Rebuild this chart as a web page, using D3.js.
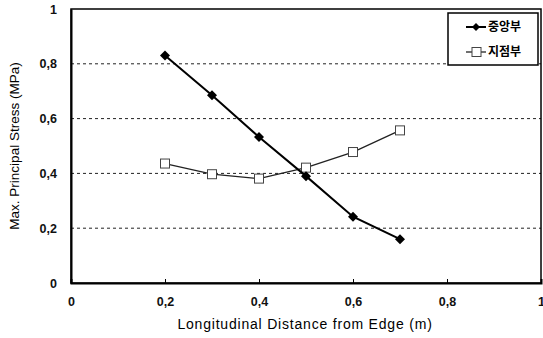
<!DOCTYPE html>
<html>
<head>
<meta charset="utf-8">
<script src="https://cdnjs.cloudflare.com/ajax/libs/d3/7.8.5/d3.min.js"></script>
<style>
  body { margin: 0; background: #fff; }
  text { font-family: Arial, "Liberation Sans", "Noto Sans CJK KR", sans-serif; }
</style>
</head>
<body>
<div id="chart"></div>
<script>
// data
const distances = [0.2, 0.3, 0.4, 0.5, 0.6, 0.7];
const centerStress = [0.83, 0.685, 0.533, 0.39, 0.242, 0.16];   // 중앙부
const supportStress = [0.436, 0.397, 0.381, 0.421, 0.478, 0.557]; // 지점부
const seriesNames = ["중앙부", "지점부"];
const xTicks = [0, 0.2, 0.4, 0.6, 0.8, 1];
const yTicks = [0, 0.2, 0.4, 0.6, 0.8, 1];

const width = 543, height = 338;
const margin = {top: 9, right: 2, bottom: 55, left: 71};

const svg = d3.select("#chart").append("svg")
    .attr("width", width)
    .attr("height", height);

const x = d3.scaleLinear().domain([0, 1]).range([margin.left, width - margin.right]);
const y = d3.scaleLinear().domain([0, 1]).range([height - margin.bottom, margin.top]);

const fmt = d => d === 0 || d === 1 ? String(d) : d3.format(".1f")(d).replace(".", ",");

// dashed grid lines
svg.append("g")
    .selectAll("line")
    .data(yTicks.filter(d => d > 0 && d < 1))
    .join("line")
    .attr("x1", x(0)).attr("x2", x(1))
    .attr("y1", d => y(d)).attr("y2", d => y(d))
    .attr("stroke", "#222")
    .attr("stroke-width", 1)
    .attr("stroke-dasharray", "3,3");

// frame
svg.append("rect")
    .attr("x", x(0)).attr("y", y(1))
    .attr("width", x(1) - x(0)).attr("height", y(0) - y(1))
    .attr("fill", "none")
    .attr("stroke", "#000")
    .attr("stroke-width", 1.5);

// axes
const xAxis = d3.axisBottom(x).tickValues(xTicks).tickSize(-4).tickPadding(14).tickFormat(fmt);
const gx = svg.append("g").attr("transform", `translate(0,${y(0)})`).call(xAxis);
gx.select(".domain").attr("stroke-width", 2);

const yAxis = d3.axisLeft(y).tickValues(yTicks).tickSize(0).tickPadding(14).tickFormat(fmt);
const gy = svg.append("g").attr("transform", `translate(${x(0)},0)`).call(yAxis);
gy.select(".domain").attr("stroke-width", 2);

svg.selectAll(".tick text")
    .attr("font-size", 12.5)
    .attr("font-weight", "bold")
    .attr("fill", "#111");

// axis titles
svg.append("text")
    .attr("x", (x(0) + x(1)) / 2 - 1)
    .attr("y", 329)
    .attr("text-anchor", "middle")
    .attr("font-size", 14)
    .attr("letter-spacing", 0.8)
    .text("Longitudinal Distance from Edge (m)");

svg.append("text")
    .attr("transform", `translate(19,${(y(0) + y(1)) / 2}) rotate(-90)`)
    .attr("text-anchor", "middle")
    .attr("font-size", 13.5)
    .text("Max. Principal Stress (MPa)");

const line = d3.line().x((d, i) => x(distances[i])).y(d => y(d));
const diamond = r => `M0,${-r}L${r},0L0,${r}L${-r},0Z`;

// 지점부 series
svg.append("path")
    .datum(supportStress)
    .attr("d", line)
    .attr("fill", "none")
    .attr("stroke", "#222")
    .attr("stroke-width", 1.3);
svg.append("g")
    .selectAll("rect")
    .data(supportStress)
    .join("rect")
    .attr("x", (d, i) => x(distances[i]) - 4.5)
    .attr("y", d => y(d) - 4.5)
    .attr("width", 9).attr("height", 9)
    .attr("fill", "#fff")
    .attr("stroke", "#444")
    .attr("stroke-width", 1);

// 중앙부 series
svg.append("path")
    .datum(centerStress)
    .attr("d", line)
    .attr("fill", "none")
    .attr("stroke", "#000")
    .attr("stroke-width", 2);
svg.append("g")
    .selectAll("path")
    .data(centerStress)
    .join("path")
    .attr("d", diamond(5))
    .attr("transform", (d, i) => `translate(${x(distances[i])},${y(d)})`)
    .attr("fill", "#000");

// legend
const lg = svg.append("g");
lg.append("rect")
    .attr("x", 448).attr("y", 13)
    .attr("width", 90).attr("height", 52)
    .attr("fill", "#fff")
    .attr("stroke", "#000")
    .attr("stroke-width", 1.5);

const rows = [27, 52];
lg.append("line").attr("x1", 466).attr("x2", 486).attr("y1", rows[0]).attr("y2", rows[0])
    .attr("stroke", "#000").attr("stroke-width", 2);
lg.append("path").attr("d", diamond(4)).attr("transform", `translate(476,${rows[0]})`).attr("fill", "#000");
lg.append("line").attr("x1", 466).attr("x2", 486).attr("y1", rows[1]).attr("y2", rows[1])
    .attr("stroke", "#222").attr("stroke-width", 1.3);
lg.append("rect").attr("x", 472).attr("y", rows[1] - 4.5).attr("width", 9).attr("height", 9)
    .attr("fill", "#fff").attr("stroke", "#444");

lg.selectAll("text.lbl")
    .data(seriesNames)
    .join("text")
    .attr("class", "lbl")
    .attr("x", 488)
    .attr("y", (d, i) => rows[i])
    .attr("dy", "0.35em")
    .attr("font-size", 12)
    .attr("font-weight", "bold")
    .text(d => d);
</script>
</body>
</html>
